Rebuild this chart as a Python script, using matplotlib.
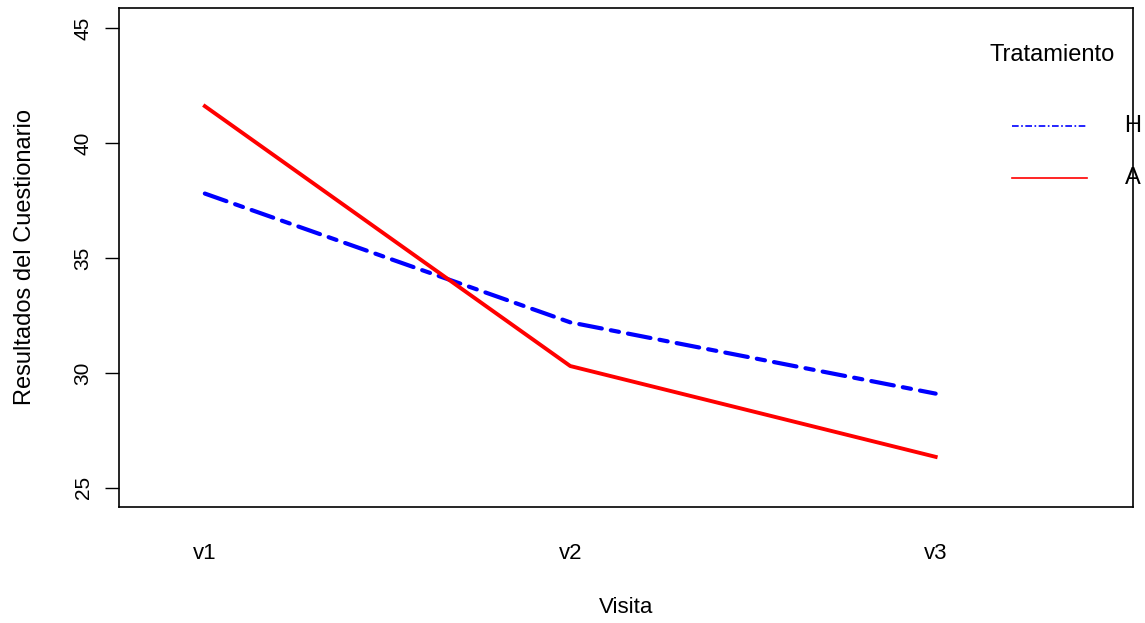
import matplotlib
matplotlib.use("Agg")
import matplotlib.pyplot as plt

plt.rcParams['font.family'] = ['Liberation Sans', 'DejaVu Sans']

visitas = ["v1", "v2", "v3"]
trat_H = [37.8, 32.2, 29.1]
trat_A = [41.6, 30.3, 26.35]
grupos = ["H", "A"]
yticks = [25, 30, 35, 40, 45]

fig = plt.figure(figsize=(11.45, 6.23), dpi=100)
ax = fig.add_axes([0.1039, 0.1862, 0.8856, 0.801])

x = [1, 2, 3]
ax.plot(x, trat_H, color='blue', lw=3.0, dashes=(5.5, 2.2, 2, 2.2), dash_capstyle='round')
ax.plot(x, trat_A, color='red', lw=2.8)

ax.set_xlim(0.765, 3.54)
ax.set_ylim(24.17, 45.87)
ax.set_xticks(x)
ax.set_xticklabels(visitas, fontsize=16)
ax.tick_params(axis='x', length=0, pad=26)
ax.set_yticks(yticks)
ax.set_yticklabels([str(v) for v in yticks], fontsize=15, rotation=90, va='center')
ax.tick_params(axis='y', length=10, pad=9, width=1)
for s in ax.spines.values():
    s.set_linewidth(1.2)

ax.set_xlabel("Visita", fontsize=16, labelpad=24)
ax.set_ylabel("Resultados del Cuestionario", fontsize=17, labelpad=27)

# leyenda al estilo R
ax.text(0.92, 0.905, "Tratamiento", transform=ax.transAxes, ha='center', va='center', fontsize=17)
ax.plot([0.8807, 0.9546], [0.7635, 0.7635], transform=ax.transAxes, color='blue', lw=1.2,
        dashes=(4, 1.5, 1, 1.5), clip_on=False)
ax.plot([0.8807, 0.9546], [0.6593, 0.6593], transform=ax.transAxes, color='red', lw=1.2, clip_on=False)
ax.text(1.0, 0.7635, grupos[0], transform=ax.transAxes, ha='center', va='center', fontsize=17, zorder=0)
ax.text(1.0, 0.6593, grupos[1], transform=ax.transAxes, ha='center', va='center', fontsize=17, zorder=0)

fig.savefig("out.png", dpi=100)
